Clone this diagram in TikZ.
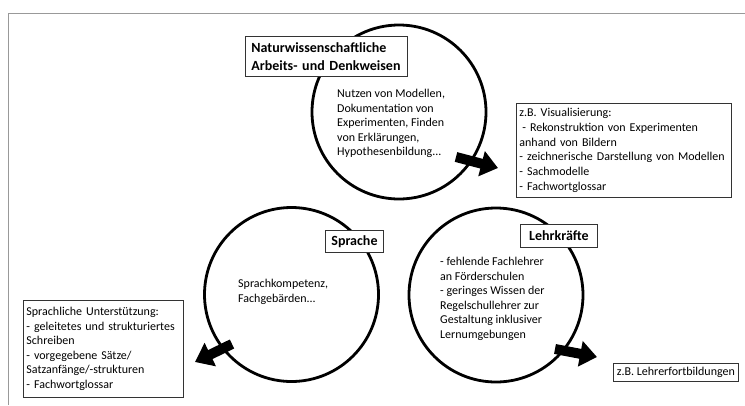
\documentclass[tikz,border=0pt]{standalone}
\usepackage{fontspec}
\setmainfont{Carlito}
\usetikzlibrary{arrows.meta}
\frenchspacing
\newcommand\bodyfont{\fontsize{12}{14.6}\selectfont}
\newcommand\widebodyfont{\fontsize{12}{14.8}\selectfont}
\newcommand\headfont{\fontsize{14}{17.5}\selectfont\bfseries}
\tikzset{
  ring/.style={circle, draw=black, line width=2.8pt, minimum size=174pt, inner sep=0pt},
  txt/.style={anchor=north west, inner sep=0pt, align=left, font=\bodyfont},
  infobox/.style={draw=black!80, line width=0.8pt, fill=white, anchor=north west,
    align=left, font=\bodyfont, inner xsep=3pt, inner ysep=2pt},
  headbox/.style={draw=black!80, line width=0.8pt, fill=white, anchor=north west,
    align=left, font=\headfont, inner xsep=6pt, inner ysep=2pt},
  blockarrow/.style={line width=10pt, -{Triangle[width=25pt,length=17pt]}},
  frameline/.style={draw=black!40, line width=0.8pt}
}
\begin{document}
\begin{tikzpicture}[x=1pt, y=-1pt]
\useasboundingbox (0,0) rectangle (745,405);

% outer frame (open to the right and bottom)
\draw[frameline] (8,405) -- (8,13) -- (745,13);

% the three topic circles
\node[ring] (nat) at (399,112) {};
\node[ring] (spr) at (291.5,294.5) {};
\node[ring] (lehr) at (496,295) {};

% circle contents
\node[txt] (nattxt) at (337,89) {Nutzen von Modellen,\\Dokumentation von\\Experimenten, Finden\\von Erklärungen,\\Hypothesenbildung...};
\node[txt] (sprtxt) at (238,279) {Sprachkompetenz,\\Fachgebärden...};
\node[txt] (lehrtxt) at (440,257) {- fehlende Fachlehrer\\an Förderschulen\\- geringes Wissen der\\Regelschullehrer zur\\Gestaltung inklusiver\\Lernumgebungen};

% circle titles
\node[headbox, text width=150pt, minimum height=40pt] (nathead) at (245,36) {Naturwissenschaftliche\\Arbeits- und Denkweisen};
\node[headbox, minimum width=58pt, minimum height=22pt, align=center] (sprhead) at (325,230) {Sprache};
\node[headbox, minimum width=77pt, minimum height=23pt, align=center] (lehrhead) at (520,224) {Lehrkräfte};

% support boxes
\node[infobox, font=\widebodyfont, text width=209pt, minimum height=94pt] (vis) at (516,103) {z.B. Visualisierung:\\\hspace{3pt}- Rekonstruktion von Experimenten\\anhand von Bildern\\- zeichnerische Darstellung von Modellen\\- Sachmodelle\\- Fachwortglossar};
\node[infobox, text width=154pt, minimum height=97pt] (sup) at (23,300) {Sprachliche Unterstützung:\\- geleitetes und strukturiertes\\Schreiben\\- vorgegebene Sätze/\\Satzanfänge/-strukturen\\- Fachwortglossar};
\node[infobox, minimum width=125pt, minimum height=18pt] (fort) at (613,362.5) {z.B. Lehrerfortbildungen};

% block arrows leaving the circles
\coordinate (natout) at (456,157);
\coordinate (nattip) at (498,168);
\coordinate (sprout) at (232,344);
\coordinate (sprtip) at (195,362);
\coordinate (lehrout) at (555,349);
\coordinate (lehrtip) at (597,357);
\draw[blockarrow] (natout) -- (nattip);
\draw[blockarrow] (sprout) -- (sprtip);
\draw[blockarrow] (lehrout) -- (lehrtip);
\end{tikzpicture}
\end{document}
